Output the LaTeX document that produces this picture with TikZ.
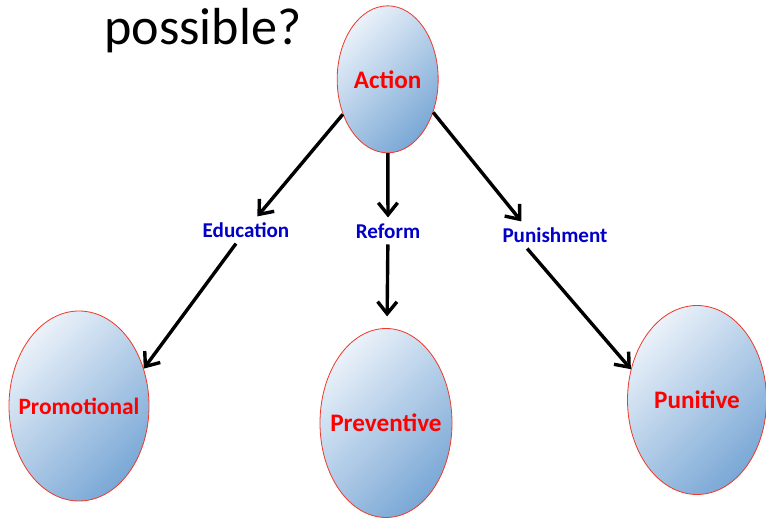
\documentclass[tikz,border=0pt]{standalone}
\usepackage{fontspec}
\setmainfont{Carlito}
\usetikzlibrary{shapes.geometric,arrows.meta}
\definecolor{bubblelight}{HTML}{EAF1F9}
\definecolor{bubbledark}{HTML}{7AA8D6}
\definecolor{rimred}{HTML}{EE3B2B}
\definecolor{viablue}{HTML}{0000C8}
\begin{document}
\begin{tikzpicture}[
        bubble/.style = {ellipse, draw = rimred, line width = 0.7pt, inner sep = 0pt,
            top color = bubblelight, bottom color = bubbledark, shading angle = 45},
        bubbletext/.style = {text = red, font = \bfseries\fontsize{21.5}{24}\selectfont},
        via/.style = {text = viablue, font = \bfseries\fontsize{18}{20}\selectfont, inner sep = 5pt},
        link/.style = {line width = 2.9pt, -{Straight Barb[length = 3.6mm, width = 5.8mm]}}
    ]
        \useasboundingbox (0,0) rectangle (22.98,15.57);
        \node[anchor = base west, inner sep = 0pt, font = \fontsize{44.5}{50}\selectfont] (title) at (3.12,14.22) {possible?};
        % the four bubbles
        \node[bubble, minimum width = 3.03cm, minimum height = 4.41cm,
            label = {[bubbletext]center:Action}] (act) at (11.63,13.19) {};
        \node[bubble, minimum width = 4.2cm, minimum height = 5.7cm,
            label = {[bubbletext, font = \bfseries\fontsize{20}{24}\selectfont]center:Promotional}] (promo) at (2.37,3.39) {};
        \node[bubble, minimum width = 3.96cm, minimum height = 5.67cm,
            label = {[bubbletext]center:Preventive}] (prev) at (11.58,2.88) {};
        \node[bubble, minimum width = 4.17cm, minimum height = 5.67cm,
            label = {[bubbletext]center:Punitive}] (puni) at (20.91,3.57) {};
        % the three ways
        \begin{scope}[every node/.append style = via]
            \node (edu) at (7.38,8.67) {Education};
            \node (ref) at (11.64,8.64) {Reform};
            \node (pun) at (16.65,8.52) {Punishment};
        \end{scope}
        \begin{scope}[every path/.append style = link]
            \draw (act.218) -- (edu);
            \draw (edu) -- (promo.30);
            \draw (act) -- (ref);
            \draw[shorten > = 3.5mm] (ref) -- (prev);
            \draw (act.-36) -- (pun.158);
            \draw (pun.206) -- (puni.155);
        \end{scope}
    \end{tikzpicture}
\end{document}
